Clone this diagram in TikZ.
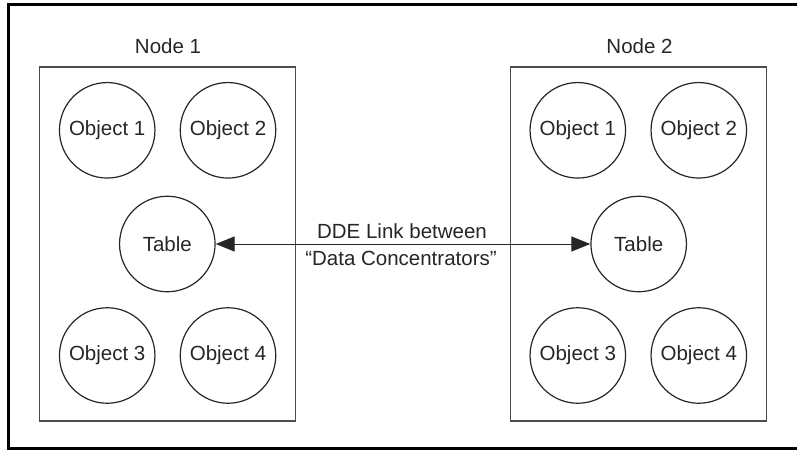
\documentclass[tikz,border=0pt]{standalone}
\usepackage{fontspec}
\setmainfont{Liberation Sans}
\usetikzlibrary{arrows.meta}
\begin{document}
\begin{tikzpicture}[x=1pt,y=-1pt,
  txt/.style={font=\fontsize{20.5}{24}\selectfont, text=black!85},
  obj/.style={circle, draw=black!85, line width=1.2pt, minimum size=95.5pt, inner sep=0pt, txt},
  nodebox/.style={draw=black!70, line width=1.3pt},
  lbl/.style={txt, inner sep=0pt}]
\useasboundingbox (0,0) rectangle (797,450);
% outer frame (open on the right)
\draw[line width=2.3pt] (797,4.5) -- (8.5,4.5) -- (8.5,448.5) -- (797,448.5);
% node boxes
\node[nodebox, minimum width=256.5pt, minimum height=354pt, inner sep=0pt] (box1) at (167.5,244) {};
\node[nodebox, minimum width=256.5pt, minimum height=354pt, inner sep=0pt] (box2) at (638.5,244) {};
\node[lbl] (n1) at (168,46) {Node 1};
\node[lbl] (n2) at (639.5,46) {Node 2};
% node 1 objects
\node[obj] (a1) at (107.2,130.3) {Object 1};
\node[obj] (a2) at (228,130.3) {Object 2};
\node[obj] (at) at (167.3,244) {Table};
\node[obj] (a3) at (107.2,355.5) {Object 3};
\node[obj] (a4) at (228,355.5) {Object 4};
% node 2 objects
\node[obj] (b1) at (577.8,130.3) {Object 1};
\node[obj] (b2) at (698.8,130.3) {Object 2};
\node[obj] (bt) at (638.7,244) {Table};
\node[obj] (b3) at (577.8,355.5) {Object 3};
\node[obj] (b4) at (698.8,355.5) {Object 4};
% link
\draw[line width=1pt, black!85, {Triangle[length=19pt,width=15pt]}-{Triangle[length=19pt,width=15pt]}] (at) -- (bt);
\node[lbl] (l1) at (402,231.5) {DDE Link between};
\node[lbl] (l2) at (401,258) {“Data Concentrators”};
\end{tikzpicture}
\end{document}
